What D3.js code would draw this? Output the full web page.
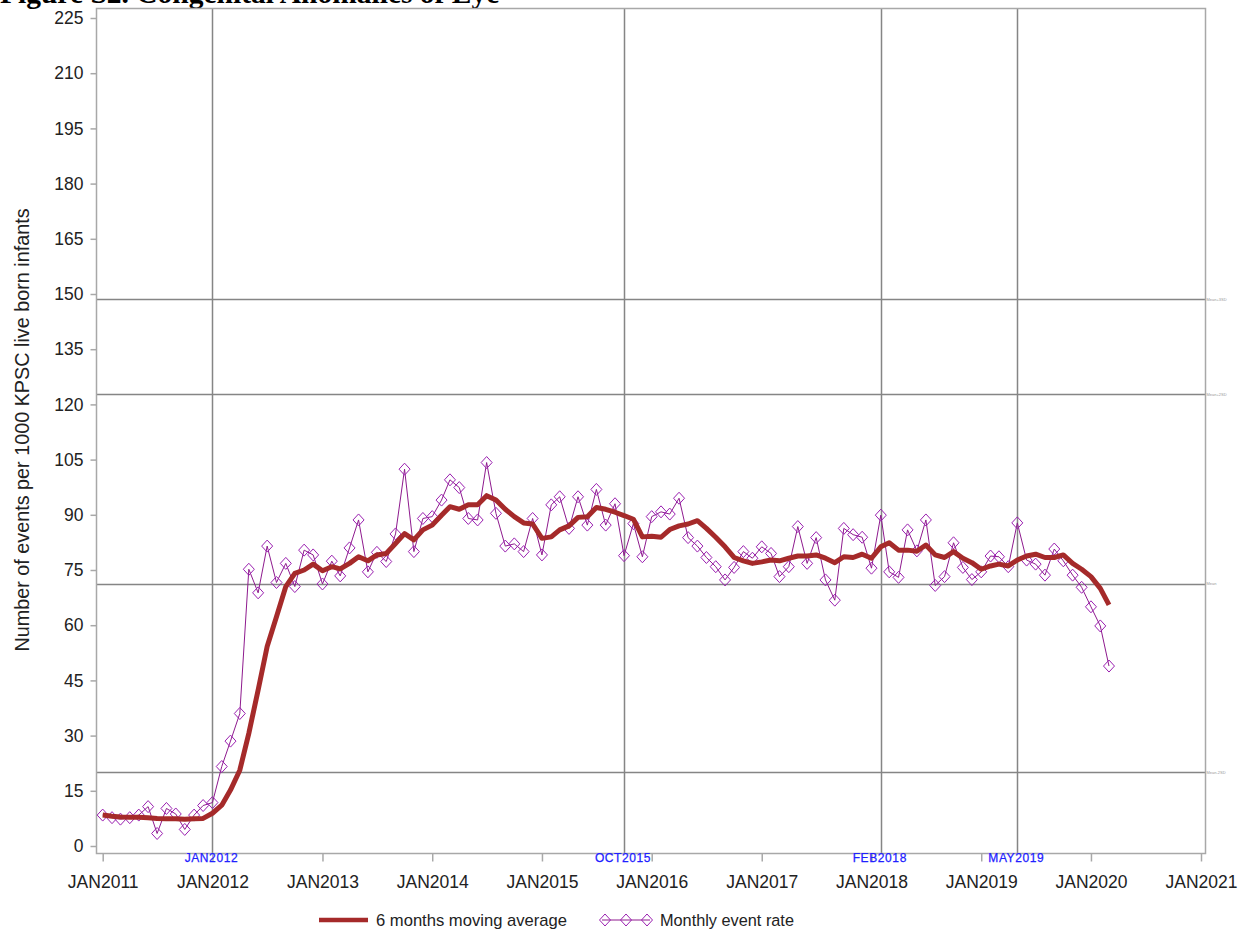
<!DOCTYPE html>
<html>
<head>
<meta charset="utf-8">
<script src="https://cdn.jsdelivr.net/npm/d3@7"></script>
<style>
  body { margin: 0; background: #fff; }
  svg { display: block; font-family: "Liberation Sans", Arial, sans-serif; }
</style>
</head>
<body>
<svg width="1247" height="938"></svg>
<script>
// monthly rates, JAN2011 .. MAR2020
const firstMonth = new Date(2011, 0, 1);

const monthlyRate = [
  8.4, 7.7, 7.3, 7.7, 8.4, 10.7, 3.4, 10.2, 8.7, 4.5, 8.4, 11.0,
  11.8, 21.6, 28.5, 36.0, 75.2, 68.8, 81.5, 71.6, 76.8, 70.5, 80.4, 79.1,
  71.2, 77.4, 73.4, 81.0, 88.6, 74.5, 79.8, 77.3, 84.8, 102.4, 80.0, 89.0,
  89.5, 94.0, 99.5, 97.4, 89.0, 88.6, 104.2, 90.4, 81.5, 82.1, 80.0, 89.0,
  79.1, 92.7, 94.9, 86.3, 94.9, 87.2, 96.9, 87.2, 93.0, 78.9, 87.6, 78.6,
  89.5, 90.8, 90.2, 94.5, 83.8, 81.5, 78.4, 75.9, 72.3, 75.7, 80.0, 78.2,
  81.3, 79.5, 73.2, 75.9, 86.8, 76.8, 83.8, 72.3, 66.8, 86.3, 84.6, 83.9,
  75.5, 89.9, 74.5, 73.0, 85.9, 80.2, 88.6, 70.8, 73.2, 82.4, 75.7, 72.4,
  74.5, 78.8, 78.6, 75.9, 87.8, 77.7, 76.6, 73.6, 80.7, 77.5, 73.6, 70.3,
  65.0, 59.8, 48.9
];

const movingAvg = [
  8.4, 8.1, 7.9, 7.8, 7.8, 7.7, 7.5, 7.4, 7.4, 7.3, 7.4, 7.5,
  8.9, 11.1, 15.2, 20.6, 30.6, 42.4, 54.2, 62.3, 70.5, 74.1, 75.0, 76.6,
  74.8, 75.9, 75.3, 76.8, 78.6, 77.5, 79.1, 79.5, 82.2, 84.9, 83.2, 85.9,
  87.2, 89.9, 92.2, 91.5, 92.7, 92.7, 95.2, 94.0, 91.5, 89.5, 87.8, 87.5,
  83.6, 84.0, 85.9, 87.0, 89.3, 89.5, 92.0, 91.5, 90.7, 89.8, 88.8, 84.0,
  84.2, 83.9, 86.0, 87.0, 87.5, 88.4, 86.3, 83.9, 81.3, 78.4, 77.5, 76.8,
  77.2, 77.7, 77.5, 78.2, 78.8, 78.8, 79.1, 78.2, 77.0, 78.6, 78.4, 79.3,
  78.2, 81.3, 82.4, 80.4, 80.4, 80.1, 81.8, 79.1, 78.4, 80.0, 78.2, 77.0,
  75.2, 76.1, 76.6, 76.1, 77.7, 78.8, 79.3, 78.4, 78.4, 79.1, 76.8, 75.2,
  73.2, 70.0, 65.5
];

const yTicks = d3.range(0, 226, 15);
const xTickYears = d3.range(2011, 2022);

// reference dates (vertical) and limits (horizontal)
const refDates = [
  {date: new Date(2012, 0, 1), label: 'JAN2012'},
  {date: new Date(2015, 9, 1), label: 'OCT2015'},
  {date: new Date(2018, 1, 1), label: 'FEB2018'},
  {date: new Date(2019, 4, 1), label: 'MAY2019'}
];
const refLimits = [
  {value: 148.6, label: 'Mean+3SD'},
  {value: 122.7, label: 'Mean+2SD'},
  {value: 71.2, label: 'Mean'},
  {value: 20.1, label: 'Mean-2SD'}
];

const rows = monthlyRate.map((v, i) => ({
  date: d3.timeMonth.offset(firstMonth, i),
  rate: v,
  avg: movingAvg[i]
}));

const svg = d3.select('svg');
const frame = {left: 96.5, right: 1205.5, top: 8.5, bottom: 853.5};

const x = d3.scaleTime()
  .domain([new Date(2011, 0, 1), new Date(2021, 0, 1)])
  .range([102.7, 1201]);

const y = d3.scaleLinear()
  .domain([0, 225])
  .range([846, 18]);

// title (cut off at top of page, as in the source figure)
svg.append('text')
  .attr('x', 0)
  .attr('y', 3)
  .attr('font-family', '"Liberation Serif", "Times New Roman", serif')
  .attr('font-weight', 'bold')
  .attr('font-size', 29.5)
  .text('Figure S2. Congenital Anomalies of Eye');

// reference lines
svg.append('g').selectAll('line')
  .data(refDates)
  .enter().append('line')
    .attr('x1', d => Math.round(x(d.date)) + 0.5)
    .attr('x2', d => Math.round(x(d.date)) + 0.5)
    .attr('y1', frame.top)
    .attr('y2', frame.bottom)
    .attr('stroke', '#858585')
    .attr('stroke-width', 1.5);

svg.append('g').selectAll('line')
  .data(refLimits)
  .enter().append('line')
    .attr('x1', frame.left)
    .attr('x2', frame.right)
    .attr('y1', d => Math.round(y(d.value)) + 0.5)
    .attr('y2', d => Math.round(y(d.value)) + 0.5)
    .attr('stroke', '#858585')
    .attr('stroke-width', 1.5);

svg.append('g').selectAll('text')
  .data(refLimits)
  .enter().append('text')
    .attr('x', frame.right + 1)
    .attr('y', d => y(d.value) + 1.5)
    .attr('font-size', 4)
    .attr('fill', '#999')
    .text(d => d.label);

// frame
svg.append('rect')
  .attr('x', frame.left)
  .attr('y', frame.top)
  .attr('width', frame.right - frame.left)
  .attr('height', frame.bottom - frame.top)
  .attr('fill', 'none')
  .attr('stroke', '#a8a8a8')
  .attr('stroke-width', 1.5);

// axes
const yAxis = svg.append('g')
  .attr('transform', `translate(${frame.left}, 0)`)
  .call(d3.axisLeft(y).tickValues(yTicks).tickSize(6).tickPadding(7));
yAxis.select('.domain').remove();
yAxis.selectAll('line').attr('stroke', '#a8a8a8').attr('stroke-width', 1.5);
yAxis.selectAll('text').attr('font-size', 17.5).attr('fill', '#222')
  .attr('font-family', '"Liberation Sans", Arial, sans-serif');

const xAxis = svg.append('g')
  .attr('transform', `translate(0, ${frame.bottom})`)
  .call(d3.axisBottom(x)
    .tickValues(xTickYears.map(yr => new Date(yr, 0, 1)))
    .tickFormat(d => 'JAN' + d.getFullYear())
    .tickSize(8).tickPadding(14));
xAxis.select('.domain').remove();
xAxis.selectAll('line').attr('stroke', '#a8a8a8').attr('stroke-width', 1.5);
xAxis.selectAll('text').attr('font-size', 17.5).attr('fill', '#222')
  .attr('font-family', '"Liberation Sans", Arial, sans-serif');

// reference date labels
svg.append('g').selectAll('text')
  .data(refDates)
  .enter().append('text')
    .attr('x', d => x(d.date) - 1)
    .attr('y', 862)
    .attr('text-anchor', 'middle')
    .attr('font-size', 12)
    .attr('letter-spacing', 0.6)
    .attr('stroke', '#2020ff')
    .attr('stroke-width', 0.25)
    .attr('fill', '#2020ff')
    .text(d => d.label);

// y axis title
svg.append('text')
  .attr('transform', 'translate(29, 430) rotate(-90)')
  .attr('text-anchor', 'middle')
  .attr('font-size', 19.8)
  .attr('fill', '#222')
  .text('Number of events per 1000 KPSC live born infants');

// monthly event rate
const rateLine = d3.line()
  .x(d => x(d.date))
  .y(d => y(d.rate));

svg.append('path')
  .datum(rows)
  .attr('fill', 'none')
  .attr('stroke', '#8e1a8e')
  .attr('stroke-width', 1)
  .attr('d', rateLine);

const diamond = 'M0,-6L5.5,0L0,6L-5.5,0Z';

svg.append('g').selectAll('path')
  .data(rows)
  .enter().append('path')
    .attr('transform', d => `translate(${x(d.date)}, ${y(d.rate)})`)
    .attr('d', diamond)
    .attr('fill', 'none')
    .attr('stroke', '#9a1fb0')
    .attr('stroke-width', 1);

// moving average
const avgLine = d3.line()
  .x(d => x(d.date))
  .y(d => y(d.avg));

svg.append('path')
  .datum(rows)
  .attr('fill', 'none')
  .attr('stroke', '#a52a2a')
  .attr('stroke-width', 5)
  .attr('stroke-linejoin', 'round')
  .attr('d', avgLine);

// legend
const legend = svg.append('g').attr('transform', 'translate(0, 920)');
legend.append('line')
  .attr('x1', 319).attr('x2', 368)
  .attr('stroke', '#a52a2a').attr('stroke-width', 4.5);
legend.append('text')
  .attr('x', 376).attr('y', 6)
  .attr('font-size', 16.6).attr('fill', '#222')
  .text('6 months moving average');
legend.append('line')
  .attr('x1', 602).attr('x2', 650)
  .attr('stroke', '#8e1a8e').attr('stroke-width', 1);
legend.selectAll('.mk')
  .data([605, 626, 647])
  .enter().append('path')
    .attr('class', 'mk')
    .attr('transform', d => `translate(${d}, 0)`)
    .attr('d', diamond)
    .attr('fill', 'none')
    .attr('stroke', '#9a1fb0');
legend.append('text')
  .attr('x', 660).attr('y', 6)
  .attr('font-size', 16.3).attr('fill', '#222')
  .text('Monthly event rate');
</script>
</body>
</html>
